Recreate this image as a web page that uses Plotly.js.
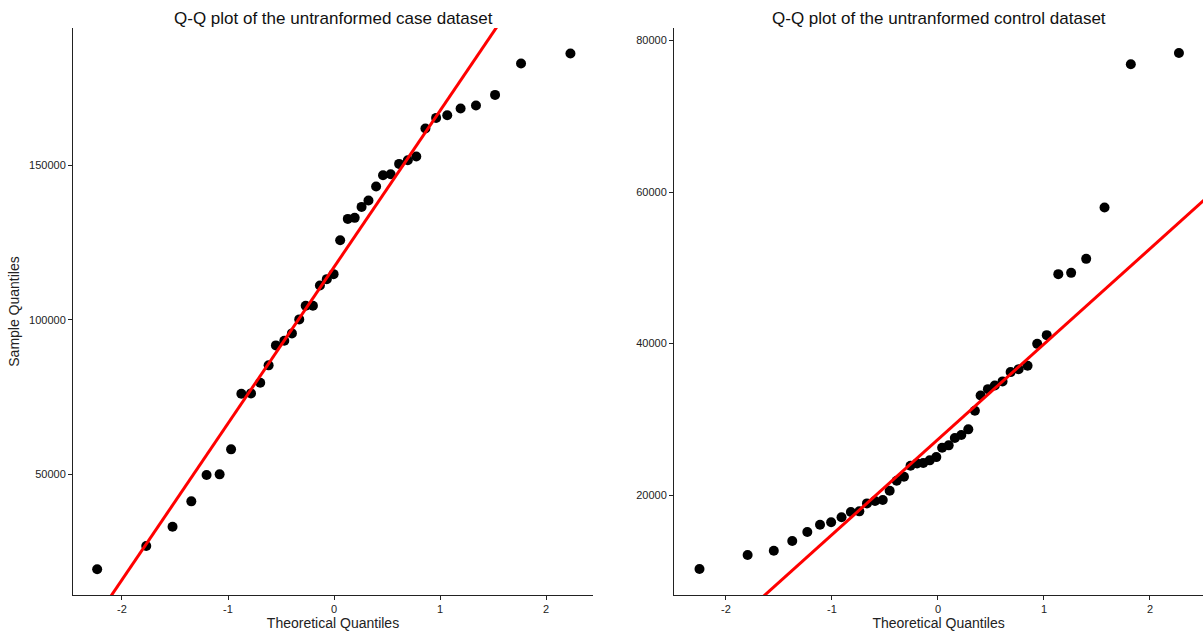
<!DOCTYPE html>
<html>
<head>
<meta charset="utf-8">
<script src="https://cdn.plot.ly/plotly-3.0.1.min.js"></script>
<style>html,body{margin:0;padding:0;background:#fff;}#chart{width:1203px;height:632px;}</style>
</head>
<body>
<div id="chart"></div>
<script>
// Case dataset: theoretical quantiles and sample quantiles
var caseTheo = [-2.234, -1.771, -1.523, -1.346, -1.202, -1.079, -0.971, -0.874, -0.783, -0.696,
  -0.617, -0.548, -0.469, -0.397, -0.328, -0.267, -0.199, -0.133, -0.068, -0.004,
  0.058, 0.130, 0.195, 0.260, 0.325, 0.397, 0.462, 0.534, 0.614, 0.696,
  0.776, 0.862, 0.963, 1.068, 1.194, 1.339, 1.519, 1.764, 2.230];
var caseSample = [19120, 26670, 32920, 41150, 49680, 49900, 58000, 76020, 76150, 79590,
  85230, 91710, 93200, 95600, 100140, 104540, 104540, 111140, 113180, 114800,
  125820, 132720, 133050, 136610, 138690, 143230, 146890, 147210, 150550, 151750,
  152950, 162020, 165460, 166340, 168500, 169470, 172920, 183080, 186320];
var caseLineX = [-2.6, 2.6];
var caseLineY = [-14700, 248880];

// Control dataset
var controlTheo = [-2.250, -1.796, -1.549, -1.375, -1.233, -1.113, -1.008, -0.910, -0.822, -0.742,
  -0.670, -0.594, -0.521, -0.456, -0.390, -0.321, -0.259, -0.197, -0.139, -0.078,
  -0.016, 0.039, 0.101, 0.159, 0.220, 0.286, 0.348, 0.402, 0.471, 0.536,
  0.609, 0.685, 0.761, 0.845, 0.936, 1.026, 1.135, 1.256, 1.398, 1.571,
  1.819, 2.273];
var controlSample = [10240, 12080, 12650, 13930, 15120, 16080, 16400, 17060, 17760, 17850,
  18900, 19210, 19340, 20570, 21890, 22410, 23870, 24180, 24220, 24580,
  25010, 26240, 26560, 27520, 27920, 28670, 31120, 33150, 33980, 34470,
  35000, 36230, 36620, 37060, 39960, 41110, 49160, 49330, 51180, 57960,
  76860, 78350];
var controlLineX = [-2.6, 2.6];
var controlLineY = [-5360, 60060];

var titles = ['Q-Q plot of the untranformed case dataset', 'Q-Q plot of the untranformed control dataset'];
var xTitle = 'Theoretical Quantiles';
var yTitle = 'Sample Quantiles';

var FONT = 'Liberation Sans, Arial, sans-serif';
var AX = '#222';

var traces = [
  {x: caseTheo, y: caseSample, type: 'scatter', mode: 'markers', xaxis: 'x', yaxis: 'y',
   marker: {color: '#000', size: 10}, cliponaxis: true, showlegend: false},
  {x: caseLineX, y: caseLineY, type: 'scatter', mode: 'lines', xaxis: 'x', yaxis: 'y',
   line: {color: '#ff0000', width: 3}, showlegend: false},
  {x: controlTheo, y: controlSample, type: 'scatter', mode: 'markers', xaxis: 'x2', yaxis: 'y2',
   marker: {color: '#000', size: 10}, showlegend: false},
  {x: controlLineX, y: controlLineY, type: 'scatter', mode: 'lines', xaxis: 'x2', yaxis: 'y2',
   line: {color: '#ff0000', width: 3}, showlegend: false}
];

function xax(domain, range, anchor, withTitle) {
  return {domain: domain, range: range, anchor: anchor, showgrid: false, zeroline: false,
    showline: true, linecolor: AX, linewidth: 1, ticks: 'outside', ticklen: 4, tickcolor: AX,
    tickvals: [-2, -1, 0, 1, 2], ticktext: ['-2', '-1', '0', '1', '2'],
    tickfont: {family: FONT, size: 11, color: '#222'},
    title: {text: xTitle, font: {family: FONT, size: 14, color: '#222'}, standoff: 3}};
}

var layout = {
  width: 1203, height: 632,
  margin: {l: 73, r: 0, t: 28, b: 37},
  paper_bgcolor: '#fff', plot_bgcolor: '#fff',
  showlegend: false,
  xaxis: xax([0, 0.4602], [-2.462, 2.443], 'y'),
  xaxis2: xax([0.5319, 1], [-2.49, 2.5], 'y2'),
  yaxis: {domain: [0, 1], range: [10790, 194600], anchor: 'x', showgrid: false, zeroline: false,
    showline: true, linecolor: AX, linewidth: 1, ticks: 'outside', ticklen: 4, tickcolor: AX,
    tickvals: [50000, 100000, 150000], tickformat: 'd',
    tickfont: {family: FONT, size: 11, color: '#222'},
    title: {text: yTitle, font: {family: FONT, size: 14, color: '#222'}, standoff: 6}},
  yaxis2: {domain: [0, 1], range: [6807, 81650], anchor: 'x2', showgrid: false, zeroline: false,
    showline: true, linecolor: AX, linewidth: 1, ticks: 'outside', ticklen: 4, tickcolor: AX,
    tickvals: [20000, 40000, 60000, 80000], tickformat: 'd',
    tickfont: {family: FONT, size: 11, color: '#222'}},
  annotations: [
    {text: titles[0], xref: 'x domain', yref: 'paper', x: 0.5, y: 1.0176, xanchor: 'center', yanchor: 'middle',
     showarrow: false, font: {family: FONT, size: 17, color: '#111'}},
    {text: titles[1], xref: 'x2 domain', yref: 'paper', x: 0.5, y: 1.0176, xanchor: 'center', yanchor: 'middle',
     showarrow: false, font: {family: FONT, size: 17, color: '#111'}}
  ]
};

Plotly.newPlot('chart', traces, layout, {displayModeBar: false, staticPlot: true});
</script>
</body>
</html>
